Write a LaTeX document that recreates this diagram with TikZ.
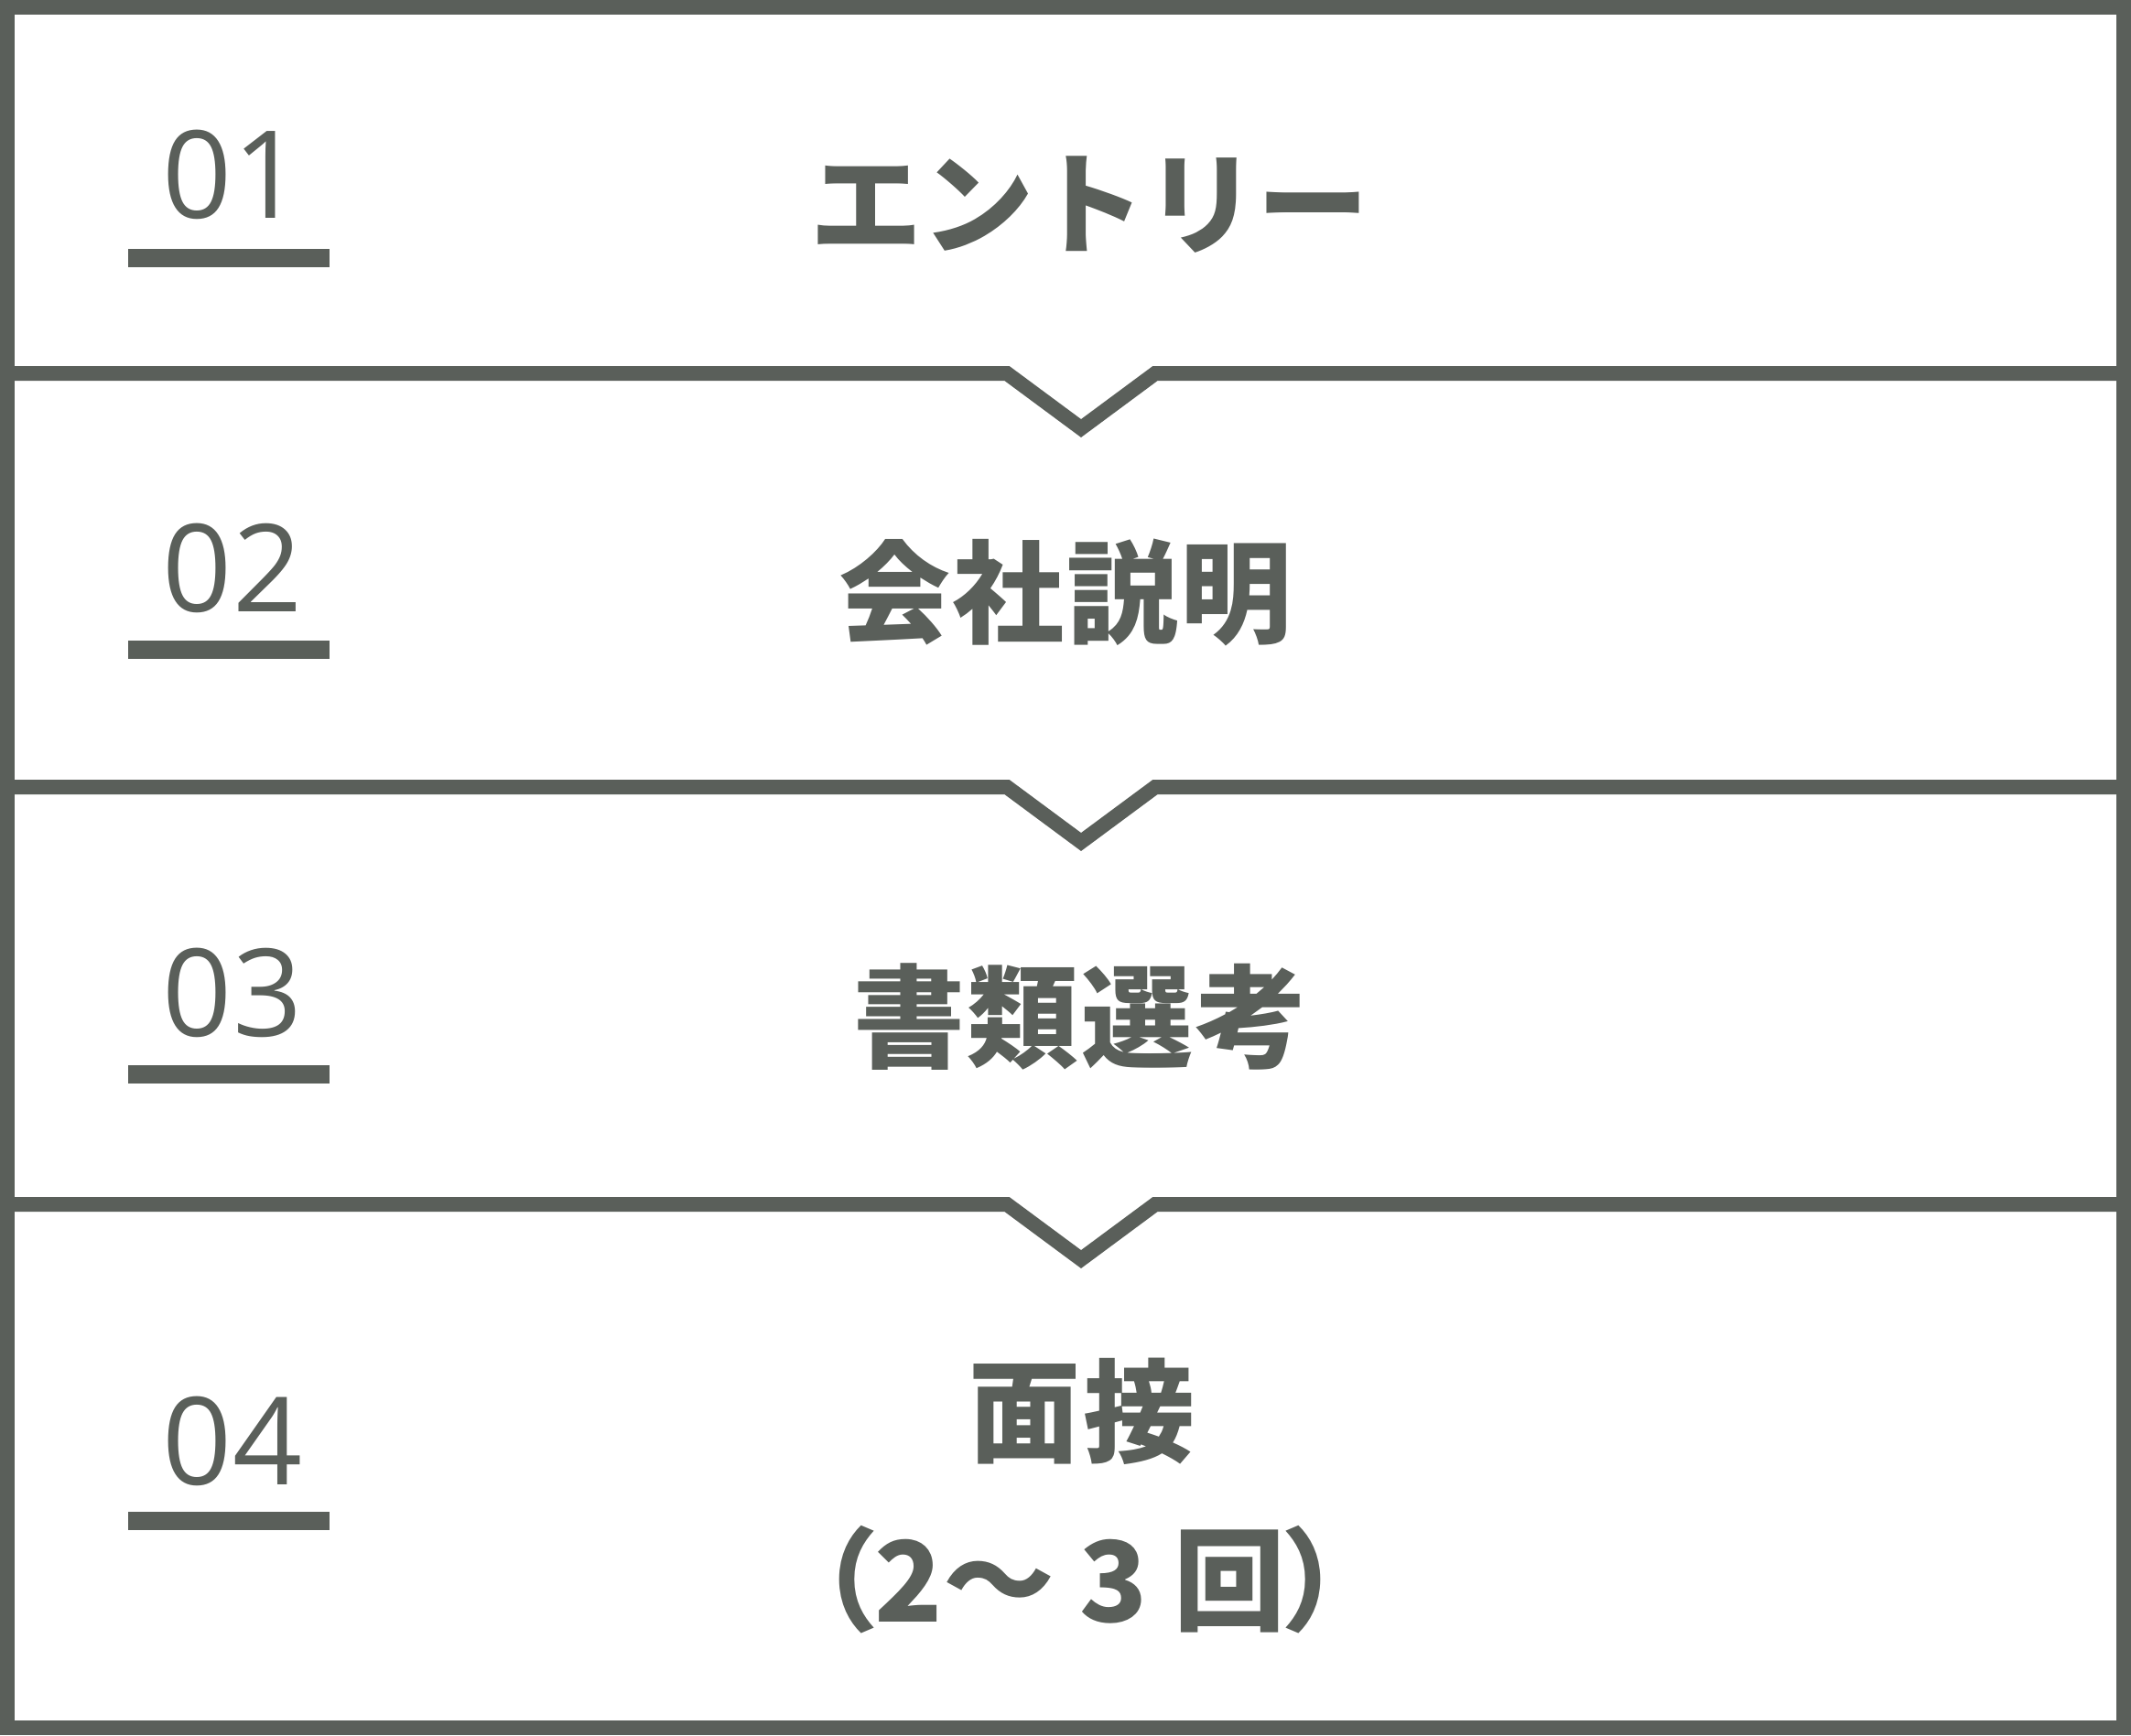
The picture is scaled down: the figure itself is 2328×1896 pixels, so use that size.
\documentclass[tikz,border=0pt]{standalone}
\usepackage{fontspec}
\setmainfont{Open Sans}
\newfontfamily\jpfont{Noto Sans CJK JP}
\newfontfamily\jpspaced[LetterSpace=2]{Noto Sans CJK JP}
\usetikzlibrary{positioning}
\definecolor{stepgrey}{HTML}{5A5F5A}

\begin{document}
\begin{tikzpicture}[
    x=0.5pt, y=-0.5pt,
    frame/.style={draw=stepgrey, line width=8pt, line join=miter},
    numlabel/.style={font=\fontsize{66.5}{70}\selectfont, text=stepgrey,
      inner sep=0pt, anchor=base},
    numbar/.style={fill=stepgrey, minimum width=110pt, minimum height=10pt,
      inner sep=0pt},
    title/.style={font=\jpfont\bfseries\fontsize{61}{70}\selectfont,
      text=stepgrey, inner sep=0pt},
    kanjititle/.style={title, font=\jpspaced\bfseries\fontsize{61}{70}\selectfont}
    ]

\useasboundingbox (0,0) rectangle (2328,1896);
\draw[frame] (8,8) rectangle (2320,1888);

\draw[frame] (16,408) -- (1100,408) -- (1181,468) -- (1262,408) -- (2312,408);
\draw[frame] (16,860) -- (1100,860) -- (1181,920) -- (1262,860) -- (2312,860);
\draw[frame] (16,1316) -- (1100,1316) -- (1181,1376) -- (1262,1316) -- (2312,1316);

\node[numlabel] (n1) at (254,238) {01};
\node[numlabel] (n2) at (254,668) {02};
\node[numlabel] (n3) at (254,1132) {03};
\node[numlabel] (n4) at (254,1622) {04};

\node[numbar, below=17pt of n1.base, xshift=-2pt] (b1) {};
\node[numbar, below=16pt of n2.base, xshift=-2pt] (b2) {};
\node[numbar, below=16pt of n3.base, xshift=-2pt] (b3) {};
\node[numbar, below=15pt of n4.base, xshift=-2pt] (b4) {};

\node[title] (t1) at (1190,224) {エントリー};
\node[kanjititle] (t2) at (1164,647) {会社説明};
\node[kanjititle] (t3) at (1180,1111) {書類選考};
\node[kanjititle] (t4) at (1182,1542) {面接};
\node[title] (t5) at (1180,1726) {（\kern-2.2pt 2〜 3 回\kern-2.2pt ）};
\end{tikzpicture}
\end{document}
